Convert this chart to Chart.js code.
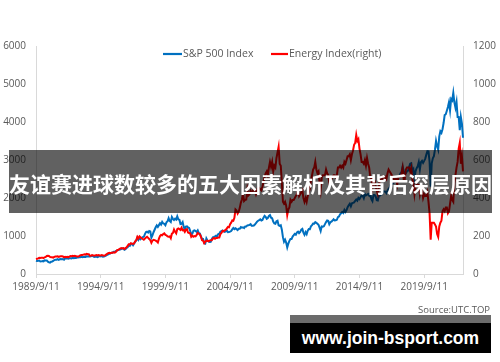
<!DOCTYPE html>
<html>
<head>
<meta charset="utf-8">
<script src="https://cdn.jsdelivr.net/npm/chart.js@4.4.1/dist/chart.umd.min.js"></script>
<style>
  html, body { margin: 0; padding: 0; background: #ffffff; }
  #wrap { position: relative; width: 500px; height: 362px; overflow: hidden; background: #fff; }
  #c { position: absolute; left: 0; top: 0; }
  #banner { position: absolute; left: 9px; top: 150px; width: 483px; height: 63px; background: rgba(0,0,0,0.62); }
  #bannerText { position: absolute; left: 9px; top: 171px; font-family: "Noto Sans CJK SC", sans-serif; font-weight: bold; font-size: 22px; line-height: 22px; color: #fff; white-space: nowrap; }
  #source { position: absolute; right: 10px; top: 303px; font-family: "Open Sans", sans-serif; font-size: 9.5px; color: #595959; }
  #strip { position: absolute; left: 290px; top: 315px; width: 201px; height: 8px; background: rgba(0,0,0,0.58); }
  #box { position: absolute; left: 290px; top: 323px; width: 201px; height: 30px; background: #000; }
  #url { position: absolute; left: 290px; top: 323px; width: 201px; height: 30px; line-height: 30px; text-align: center; font-family: "Liberation Sans", Arial, sans-serif; font-weight: bold; font-size: 17.5px; color: #fff; white-space: nowrap; }
</style>
</head>
<body>
<div id="wrap">
  <canvas id="c" width="500" height="362"></canvas>
  <div id="banner"></div>
  <div id="bannerText">友谊赛进球数较多的五大因素解析及其背后深层原因</div>
  <div id="source">Source:UTC.TOP</div>
  <div id="strip"></div>
  <div id="box"></div>
  <div id="url">www.join-bsport.com</div>
</div>
<script>
// ---- data ----
const startYear = 1989, startMonth = 9, monthCount = 397;
const tickLabels = ["1989/9/11", "1994/9/11", "1999/9/11", "2004/9/11", "2009/9/11", "2014/9/11", "2019/9/11"];
const leftTicks = [0, 1000, 2000, 3000, 4000, 5000, 6000];
const rightTicks = [0, 200, 400, 600, 800, 1000, 1200];
const seriesNames = ["S&P 500 Index", "Energy Index(right)"];

const spx = [
  349, 340, 346, 353,
  329, 332, 340, 331, 361, 358, 356, 323, 306, 300, 322, 330,
  344, 367, 375, 375, 390, 371, 387, 395, 388, 392, 375, 417,
  409, 413, 404, 415, 415, 408, 424, 414, 418, 419, 431, 436,
  439, 443, 452, 440, 450, 451, 448, 464, 459, 468, 462, 466,
  482, 467, 446, 451, 457, 444, 458, 475, 463, 472, 454, 459,
  470, 487, 501, 515, 533, 545, 562, 562, 584, 582, 605, 616,
  636, 640, 646, 654, 669, 671, 640, 652, 687, 705, 757, 741,
  786, 791, 757, 801, 848, 885, 954, 899, 947, 915, 955, 970,
  980, 1049, 1102, 1112, 1091, 1134, 1121, 957, 1017, 1099, 1164, 1229,
  1280, 1238, 1286, 1335, 1302, 1373, 1329, 1320, 1283, 1363, 1389, 1469,
  1394, 1366, 1499, 1452, 1421, 1455, 1431, 1518, 1437, 1429, 1315, 1320,
  1366, 1240, 1160, 1249, 1256, 1224, 1211, 1134, 1041, 1060, 1139, 1148,
  1130, 1107, 1147, 1076, 1067, 990, 912, 916, 815, 800, 936, 880,
  856, 841, 848, 917, 964, 975, 990, 1008, 996, 1051, 1058, 1112,
  1131, 1145, 1126, 1107, 1121, 1141, 1102, 1104, 1115, 1130, 1174, 1212,
  1181, 1204, 1181, 1157, 1192, 1191, 1234, 1220, 1229, 1207, 1249, 1248,
  1280, 1281, 1295, 1311, 1270, 1270, 1277, 1304, 1336, 1378, 1401, 1418,
  1438, 1407, 1421, 1482, 1531, 1503, 1455, 1474, 1527, 1549, 1481, 1468,
  1379, 1331, 1323, 1386, 1400, 1280, 1267, 1283, 1166, 969, 850, 903,
  826, 700, 798, 873, 919, 919, 987, 1021, 1057, 1036, 1096, 1115,
  1074, 1104, 1169, 1187, 1089, 1031, 1102, 1049, 1141, 1183, 1181, 1258,
  1286, 1327, 1326, 1364, 1345, 1321, 1292, 1219, 1131, 1253, 1247, 1258,
  1312, 1366, 1408, 1398, 1310, 1362, 1379, 1407, 1441, 1412, 1416, 1426,
  1498, 1515, 1569, 1598, 1631, 1606, 1686, 1633, 1682, 1757, 1806, 1848,
  1783, 1859, 1872, 1884, 1924, 1960, 1931, 2003, 1972, 2018, 2068, 2059,
  1995, 2105, 2068, 2086, 2107, 2063, 2104, 1972, 1920, 2079, 2080, 2044,
  1940, 1932, 2060, 2065, 2097, 2099, 2174, 2171, 2168, 2126, 2199, 2239,
  2279, 2364, 2363, 2384, 2412, 2423, 2470, 2472, 2519, 2575, 2648, 2674,
  2824, 2714, 2641, 2648, 2705, 2718, 2816, 2902, 2914, 2712, 2760, 2507,
  2704, 2784, 2834, 2946, 2752, 2942, 2980, 2926, 2977, 3038, 3141, 3231,
  3226, 2954, 2300, 2912, 3044, 3100, 3271, 3500, 3363, 3270, 3622, 3756,
  3714, 3811, 3973, 4181, 4204, 4298, 4395, 4523, 4308, 4605, 4567, 4766,
  4516, 4374, 4530, 4132, 4132, 3785, 4130, 3955, 3585
];

const energy = [
  78, 80, 82, 85,
  84, 86, 86, 84, 88, 90, 95, 96, 95, 90, 88, 88,
  86, 90, 92, 92, 93, 90, 92, 93, 93, 92, 88, 90,
  88, 90, 88, 92, 95, 94, 96, 94, 96, 94, 92, 92,
  94, 98, 100, 100, 102, 104, 102, 106, 104, 104, 96, 96,
  100, 98, 96, 98, 100, 98, 100, 98, 98, 100, 98, 96,
  98, 102, 106, 110, 112, 110, 112, 112, 114, 112, 116, 124,
  126, 130, 134, 136, 134, 136, 132, 136, 140, 148, 156, 156,
  162, 160, 158, 162, 172, 178, 196, 188, 198, 192, 188, 184,
  180, 186, 192, 196, 190, 184, 178, 164, 176, 180, 178, 176,
  172, 166, 186, 200, 206, 204, 210, 214, 206, 204, 198, 196,
  198, 188, 212, 216, 234, 222, 214, 236, 240, 236, 232, 244,
  230, 232, 222, 234, 236, 218, 216, 214, 196, 202, 196, 200,
  198, 206, 216, 212, 208, 196, 178, 176, 162, 170, 174, 176,
  172, 176, 178, 178, 186, 190, 186, 190, 190, 192, 192, 210,
  216, 226, 224, 230, 232, 240, 248, 246, 262, 270, 282, 280,
  296, 340, 334, 318, 328, 348, 376, 392, 426, 384, 390, 392,
  446, 414, 420, 438, 430, 434, 450, 440, 420, 440, 456, 454,
  446, 440, 460, 484, 510, 530, 540, 520, 560, 590, 564, 590,
  540, 570, 560, 610, 640, 670, 580, 570, 480, 380, 370, 380,
  360, 310, 340, 350, 390, 380, 390, 390, 400, 410, 420, 440,
  410, 420, 430, 440, 400, 380, 400, 380, 410, 430, 450, 490,
  520, 550, 560, 590, 550, 530, 540, 480, 440, 510, 520, 520,
  520, 550, 530, 520, 480, 490, 500, 510, 520, 520, 510, 520,
  560, 560, 570, 560, 570, 560, 590, 580, 600, 620, 620, 630,
  600, 630, 650, 680, 690, 732, 700, 710, 660, 630, 590, 590,
  580, 600, 570, 610, 580, 560, 510, 500, 460, 500, 490, 460,
  440, 420, 460, 500, 500, 510, 500, 500, 510, 500, 530, 550,
  540, 530, 520, 510, 490, 500, 500, 470, 510, 510, 510, 530,
  560, 500, 500, 550, 560, 560, 560, 540, 560, 500, 480, 420,
  460, 470, 470, 470, 420, 450, 440, 400, 420, 410, 410, 430,
  380, 320, 180, 270, 270, 270, 260, 250, 210, 195, 250, 270,
  280, 330, 340, 330, 350, 350, 320, 330, 370, 410, 390, 380,
  480, 520, 560, 590, 660, 690, 580, 620, 540
];

// category labels (one per month)
const months = [];
for (let i = 0; i < monthCount; i++) {
  const m0 = startMonth - 1 + i;
  months.push((startYear + Math.floor(m0 / 12)) + "/" + (m0 % 12 + 1) + "/11");
}

// fit banner headline to the banner width
(function fitBanner() {
  const el = document.getElementById("bannerText");
  const n = el.textContent.length;
  const w = el.getBoundingClientRect().width;
  const target = 483;
  if (Math.abs(w - target) > 1) {
    const fs = 22 * target / w;
    el.style.fontSize = fs.toFixed(2) + "px";
    el.style.top = (171 + (22 - fs) / 2).toFixed(1) + "px";
  }
})();

const BLUE = "#0070C0", RED = "#FF0000", GREY = "#595959", AXIS = "#D9D9D9";
const FONT = { family: "'Open Sans', sans-serif", size: 10 };

const legendPlugin = {
  id: "customLegend",
  afterDraw(chart) {
    const ctx = chart.ctx;
    ctx.save();
    ctx.font = "10.5px 'Open Sans', sans-serif";
    ctx.textBaseline = "middle";
    ctx.lineWidth = 2.2;
    const y = 54;
    const items = [[163, 182, BLUE, seriesNames[0]], [271, 288, RED, seriesNames[1]]];
    for (const [x0, x1, col, txt] of items) {
      ctx.strokeStyle = col;
      ctx.beginPath(); ctx.moveTo(x0, y); ctx.lineTo(x1, y); ctx.stroke();
      ctx.fillStyle = GREY;
      ctx.fillText(txt, x1 + 1, y + 0.5);
    }
    ctx.restore();
  }
};

new Chart(document.getElementById("c"), {
  type: "line",
  data: {
    labels: months,
    datasets: [
      { label: seriesNames[0], data: spx, yAxisID: "y", borderColor: BLUE, borderWidth: 2, pointRadius: 0, tension: 0, order: 2 },
      { label: seriesNames[1], data: energy, yAxisID: "y1", borderColor: RED, borderWidth: 2, pointRadius: 0, tension: 0, order: 1 }
    ]
  },
  options: {
    responsive: false,
    animation: false,
    devicePixelRatio: 1,
    layout: { padding: { top: 46, left: 0, right: 0, bottom: 0 } },
    plugins: { legend: { display: false }, tooltip: { enabled: false } },
    scales: {
      x: {
        type: "category",
        offset: false,
        afterBuildTicks(scale) { scale.ticks = scale.ticks.filter(t => t.value % 60 === 0); },
        afterFit(scale) { scale.height = 88; },
        ticks: {
          autoSkip: false, maxRotation: 0, minRotation: 0, color: GREY, font: FONT, padding: 3,
          callback(value) { return value % 60 === 0 ? tickLabels[value / 60] : null; }
        },
        grid: { display: true, drawOnChartArea: false, drawTicks: true, tickLength: 4, color: AXIS },
        border: { display: true, color: AXIS, width: 1 }
      },
      y: {
        position: "left", min: 0, max: 6000,
        afterBuildTicks(scale) { scale.ticks = leftTicks.map(v => ({ value: v })); },
        afterFit(scale) { scale.width = 36; },
        ticks: { color: GREY, font: FONT, padding: 10, callback: v => String(v) },
        grid: { display: false, drawTicks: false },
        border: { display: true, color: AXIS, width: 1 }
      },
      y1: {
        position: "right", min: 0, max: 1200,
        afterBuildTicks(scale) { scale.ticks = rightTicks.map(v => ({ value: v })); },
        afterFit(scale) { scale.width = 37; },
        ticks: { color: GREY, font: FONT, padding: 10, callback: v => String(v) },
        grid: { display: false, drawTicks: false },
        border: { display: true, color: AXIS, width: 1 }
      }
    }
  },
  plugins: [legendPlugin]
});
</script>
</body>
</html>
